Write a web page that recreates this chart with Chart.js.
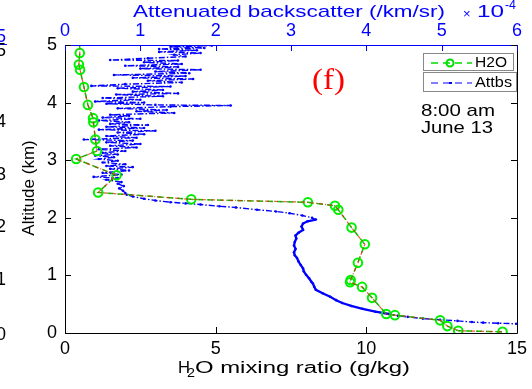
<!DOCTYPE html>
<html lang="en">
<head>
    <meta charset="utf-8">
    <title>H2O and backscatter profile</title>
    <script src="https://cdn.jsdelivr.net/npm/chart.js@4.4.0/dist/chart.umd.min.js"></script>
    <style>
        body { margin: 0; background: #fff; }
        canvas { display: block; }
    </style>
</head>
<body>
<canvas id="profile" width="532" height="389"></canvas>

<script>
    // water vapour mixing ratio (g/kg) against altitude (km)
    let h2oAlt = [5.2, 4.86, 4.66, 4.57, 4.27, 3.96, 3.73, 3.66, 3.36, 3.16, 3.02, 2.74, 2.44, 2.32, 2.27, 2.21, 2.14,
        1.83, 1.54, 1.22, 0.92, 0.88, 0.80, 0.61, 0.33, 0.31, 0.22, 0.12, 0.04, 0.02];
    let h2oMix = [0.48, 0.49, 0.46, 0.50, 0.63, 0.76, 0.93, 0.94, 1.01, 1.06, 0.37, 1.71, 1.10, 4.19, 8.06, 8.96, 9.07,
        9.51, 9.95, 9.72, 9.48, 9.46, 9.86, 10.19, 10.66, 10.95, 12.45, 12.69, 13.05, 14.52];

    // attenuated backscatter (x1e-4 /km/sr) against altitude (km)
    let attAlt = [5.00, 4.99, 4.97, 4.95, 4.93, 4.91, 4.88, 4.86, 4.83, 4.80, 4.77, 4.74, 4.73, 4.70, 4.67, 4.64,
        4.62, 4.59, 4.57, 4.54, 4.51, 4.48, 4.46, 4.43, 4.41, 4.38, 4.35, 4.32, 4.29, 4.28, 4.25, 4.22, 4.19, 4.16,
        4.14, 4.11, 4.08, 4.05, 4.02, 4.00, 3.98, 3.96, 3.95, 3.93, 3.90, 3.87, 3.85, 3.82, 3.79, 3.77, 3.74, 3.72,
        3.69, 3.66, 3.63, 3.61, 3.58, 3.56, 3.53, 3.51, 3.48, 3.45, 3.42, 3.39, 3.36, 3.34, 3.31, 3.28, 3.25, 3.22,
        3.19, 3.16, 3.13, 3.10, 3.08, 3.05, 3.02, 2.99, 2.96, 2.93, 2.90, 2.88, 2.85, 2.82, 2.78, 2.75, 2.71, 2.69,
        2.66, 2.62, 2.59, 2.55, 2.51, 2.47, 2.43, 2.40, 2.37, 2.33, 2.30, 2.27, 2.25, 2.23, 2.20, 2.18, 2.14, 2.11,
        2.08, 2.04, 2.00, 1.97, 1.94, 1.90, 1.85, 1.79, 1.74, 1.69, 1.64, 1.58, 1.52, 1.46, 1.40, 1.35, 1.30, 1.24,
        1.18, 1.12, 1.07, 1.01, 0.95, 0.89, 0.86, 0.80, 0.75, 0.69, 0.63, 0.57, 0.52, 0.47, 0.42, 0.37, 0.33, 0.30,
        0.28, 0.25, 0.23, 0.21, 0.19, 0.18, 0.17, 0.16];
    let attVal = [1.30, 1.95, 1.40, 1.85, 1.25, 1.75, 1.25, 1.80, 1.45, 1.60, 1.10, 0.60, 1.50, 1.05, 1.55, 0.80,
        1.50, 1.00, 1.80, 1.20, 1.65, 0.65, 1.60, 0.90, 1.70, 1.10, 1.55, 0.80, 0.35, 1.40, 0.70, 1.30, 0.90, 1.50,
        0.68, 1.30, 0.50, 1.00, 0.40, 1.05, 0.55, 1.20, 2.20, 1.40, 0.70, 1.35, 0.95, 1.45, 0.60, 0.85, 0.50, 1.00,
        0.45, 0.85, 0.60, 1.10, 0.55, 1.05, 0.45, 1.20, 0.70, 1.05, 0.55, 0.95, 0.25, 0.90, 0.55, 1.00, 0.60, 0.95,
        0.45, 0.80, 0.50, 0.70, 0.40, 0.65, 0.45, 0.70, 0.50, 0.80, 0.55, 0.90, 0.60, 0.85, 0.50, 0.75, 0.38, 0.70,
        0.55, 0.75, 0.70, 0.78, 0.72, 0.77, 0.80, 0.82, 0.90, 1.05, 1.20, 1.40, 1.60, 1.80, 2.05, 2.27, 2.55, 2.80,
        2.98, 3.15, 3.28, 3.33, 3.22, 3.16, 3.14, 3.16, 3.10, 3.06, 3.07, 3.05, 3.04, 3.06, 3.04, 3.05, 3.08, 3.10,
        3.13, 3.16, 3.17, 3.20, 3.24, 3.27, 3.29, 3.31, 3.33, 3.42, 3.52, 3.60, 3.68, 3.80, 3.95, 4.12, 4.30, 4.42,
        4.55, 4.75, 4.98, 5.21, 5.40, 5.55, 5.75, 5.99];

    let mixTicks = [0, 5, 10, 15];
    let attTicks = [0, 1, 2, 3, 4, 5, 6];
    let altTicks = [0, 1, 2, 3, 4, 5];

    // row labels of the neighbouring panel, cut by the left edge
    let sideLabels = ['5', '4', '3', '2', '1', '0'];
    let sideLabelAlt = [4.93, 3.7, 2.78, 1.87, 0.95, 0];

    const FONT = "'Liberation Sans', Arial, sans-serif";

    let toPoints = (xs, ys) => xs.map((v, i) => ({x: v, y: ys[i]}));

    // draw text stretched sideways to a given width, starting at x
    let fitText = (ctx, text, x, y, width) => {
        const w = ctx.measureText(text).width;
        ctx.save();
        ctx.translate(x, y);
        ctx.scale(width / w, 1);
        ctx.textAlign = 'left';
        ctx.fillText(text, 0, 0);
        ctx.restore();
    };

    // solid stretch of the backscatter trace, between these altitudes
    let solidTrace = c => c.p0.parsed.y < 2.0 && c.p1.parsed.y > 0.3;

    let decorPlugin = {
        id: 'decor',
        afterDatasetsDraw(chart) {
            const ctx = chart.ctx;
            const a = chart.chartArea;
            const sx = chart.scales.x, sx2 = chart.scales.x2, sy = chart.scales.y;
            ctx.save();

            // axes frame: blue on top for the backscatter axis
            ctx.lineWidth = 1;
            ctx.strokeStyle = '#000';
            ctx.beginPath();
            ctx.moveTo(a.left + 0.5, a.top);
            ctx.lineTo(a.left + 0.5, a.bottom + 0.5);
            ctx.lineTo(a.right + 0.5, a.bottom + 0.5);
            ctx.lineTo(a.right + 0.5, a.top);
            ctx.stroke();
            ctx.strokeStyle = '#0000ff';
            ctx.beginPath();
            ctx.moveTo(a.left, a.top + 0.5);
            ctx.lineTo(a.right + 1, a.top + 0.5);
            ctx.stroke();

            // inward tick marks
            const tl = 6;
            ctx.strokeStyle = '#000';
            ctx.beginPath();
            altTicks.forEach(v => {
                const y = Math.round(sy.getPixelForValue(v)) + 0.5;
                ctx.moveTo(a.left, y); ctx.lineTo(a.left + tl, y);
                ctx.moveTo(a.right, y); ctx.lineTo(a.right - tl, y);
            });
            mixTicks.forEach(v => {
                const x = Math.round(sx.getPixelForValue(v)) + 0.5;
                ctx.moveTo(x, a.bottom); ctx.lineTo(x, a.bottom - tl);
            });
            ctx.stroke();
            ctx.strokeStyle = '#0000ff';
            ctx.beginPath();
            attTicks.forEach(v => {
                const x = Math.round(sx2.getPixelForValue(v)) + 0.5;
                ctx.moveTo(x, a.top); ctx.lineTo(x, a.top + tl);
            });
            ctx.stroke();

            ctx.textBaseline = 'middle';

            // top axis title and its multiplier
            ctx.fillStyle = '#0000ff';
            ctx.font = '17px ' + FONT;
            fitText(ctx, 'Attenuated backscatter (/km/sr)', 133, 12, 312);
            ctx.font = '13px ' + FONT;
            ctx.fillText('\u00d7', 463, 14);
            ctx.font = '16px ' + FONT;
            fitText(ctx, '10', 477, 13, 27);
            ctx.font = '12px ' + FONT;
            fitText(ctx, '-4', 505, 6, 11);

            // bottom axis title with subscript
            ctx.fillStyle = '#000';
            ctx.font = '16px ' + FONT;
            fitText(ctx, 'H', 178, 369, 12);
            fitText(ctx, 'O mixing ratio (g/kg)', 195, 369, 215);
            ctx.font = '12px ' + FONT;
            fitText(ctx, '2', 187, 374, 8);

            // left axis title
            ctx.save();
            ctx.translate(29, 188);
            ctx.rotate(-Math.PI / 2);
            ctx.font = '17px ' + FONT;
            ctx.textAlign = 'center';
            ctx.fillText('Altitude (km)', 0, 0);
            ctx.restore();

            // legend
            ctx.strokeStyle = '#888';
            ctx.fillStyle = '#fff';
            ctx.lineWidth = 1;
            ctx.fillRect(423, 53, 90, 18);
            ctx.strokeRect(423.5, 53.5, 90, 17);
            ctx.fillRect(423, 72, 93, 20);
            ctx.strokeRect(423.5, 72.5, 93, 19);
            ctx.font = '14px ' + FONT;
            ctx.fillStyle = '#000';
            fitText(ctx, 'H2O', 475, 63, 32);
            fitText(ctx, 'Attbs', 475, 83, 37);
            ctx.lineWidth = 1.5;
            ctx.strokeStyle = '#00dd00';
            ctx.setLineDash([7, 5]);
            ctx.beginPath(); ctx.moveTo(431, 63); ctx.lineTo(472, 63); ctx.stroke();
            ctx.setLineDash([]);
            ctx.lineWidth = 2;
            ctx.beginPath(); ctx.arc(450, 63, 3.5, 0, Math.PI * 2); ctx.stroke();
            ctx.lineWidth = 1;
            ctx.strokeStyle = '#0000ff';
            ctx.setLineDash([7, 5]);
            ctx.beginPath(); ctx.moveTo(431, 83); ctx.lineTo(472, 83); ctx.stroke();
            ctx.setLineDash([]);
            ctx.fillStyle = '#0000ff';
            ctx.fillRect(449, 82, 3, 2);

            // time stamp and panel tag
            ctx.fillStyle = '#000';
            ctx.font = '17px ' + FONT;
            fitText(ctx, '8:00 am', 421, 111, 74);
            fitText(ctx, 'June 13', 421, 128, 72);
            ctx.fillStyle = '#ff0000';
            ctx.font = "29px 'Liberation Serif', 'Times New Roman', serif";
            fitText(ctx, '(f)', 312, 81, 33);

            // clipped labels at the left edge
            ctx.textAlign = 'right';
            ctx.font = '18px ' + FONT;
            ctx.fillStyle = '#0000ff';
            ctx.fillText('5', 6, 37);
            ctx.fillRect(0, 44, 7, 1);
            ctx.fillStyle = '#000';
            sideLabels.forEach((t, i) => {
                ctx.fillText(t, 6, sy.getPixelForValue(sideLabelAlt[i]) + 2);
            });
            ctx.restore();
        }
    };

    let showChart = () => {
        const ctx = document.getElementById('profile').getContext('2d');
        new Chart(ctx, {
            type: 'scatter',
            data: {
                datasets: [{
                    label: 'Attbs',
                    data: toPoints(attVal, attAlt),
                    xAxisID: 'x2',
                    showLine: true,
                    borderColor: '#0000ff',
                    backgroundColor: '#0000ff',
                    borderWidth: 1.4,
                    borderDash: [6, 2, 1.5, 2],
                    // the dense middle profile reads as a solid thick trace
                    segment: {
                        borderDash: c => solidTrace(c) ? [] : undefined,
                        borderWidth: c => solidTrace(c) ? 2.3 : undefined
                    },
                    pointRadius: 1.3,
                    pointBorderWidth: 0,
                    order: 3
                }, {
                    label: 'H2O',
                    data: toPoints(h2oMix, h2oAlt),
                    xAxisID: 'x',
                    showLine: true,
                    borderColor: '#00cc00',
                    borderWidth: 1.5,
                    borderDash: [6, 4],
                    pointStyle: 'circle',
                    pointRadius: 4.3,
                    pointBorderWidth: 2,
                    pointBorderColor: '#00ee00',
                    pointBackgroundColor: 'rgba(255,255,255,0)',
                    order: 2
                }, {
                    label: 'H2O overlay',
                    data: toPoints(h2oMix, h2oAlt),
                    xAxisID: 'x',
                    showLine: true,
                    borderColor: 'rgba(220,40,0,0.75)',
                    borderWidth: 1.2,
                    borderDash: [4, 2, 1, 2],
                    pointRadius: 0,
                    order: 1
                }]
            },
            options: {
                responsive: false,
                animation: false,
                layout: {padding: {left: 0, right: 8, top: 0, bottom: 0}},
                plugins: {legend: {display: false}, tooltip: {enabled: false}},
                scales: {
                    x: {
                        type: 'linear', position: 'bottom', min: 0, max: 15,
                        afterBuildTicks: s => { s.ticks = mixTicks.map(v => ({value: v})); },
                        afterFit: s => { s.height = 56; },
                        grid: {display: false, drawTicks: false}, border: {display: false},
                        ticks: {color: '#000', font: {family: FONT, size: 18}, padding: 5, maxRotation: 0}
                    },
                    x2: {
                        type: 'linear', position: 'top', min: 0, max: 6,
                        afterBuildTicks: s => { s.ticks = attTicks.map(v => ({value: v})); },
                        afterFit: s => { s.height = 45; },
                        grid: {display: false, drawTicks: false}, border: {display: false},
                        ticks: {color: '#0000ff', font: {family: FONT, size: 18}, padding: 3, maxRotation: 0}
                    },
                    y: {
                        type: 'linear', position: 'left', min: 0, max: 5,
                        afterBuildTicks: s => { s.ticks = altTicks.map(v => ({value: v})); },
                        afterFit: s => { s.width = 65; },
                        grid: {display: false, drawTicks: false}, border: {display: false},
                        ticks: {color: '#000', font: {family: FONT, size: 18}, padding: 8}
                    }
                }
            },
            plugins: [decorPlugin]
        });
    };

    showChart();
</script>
</body>
</html>
